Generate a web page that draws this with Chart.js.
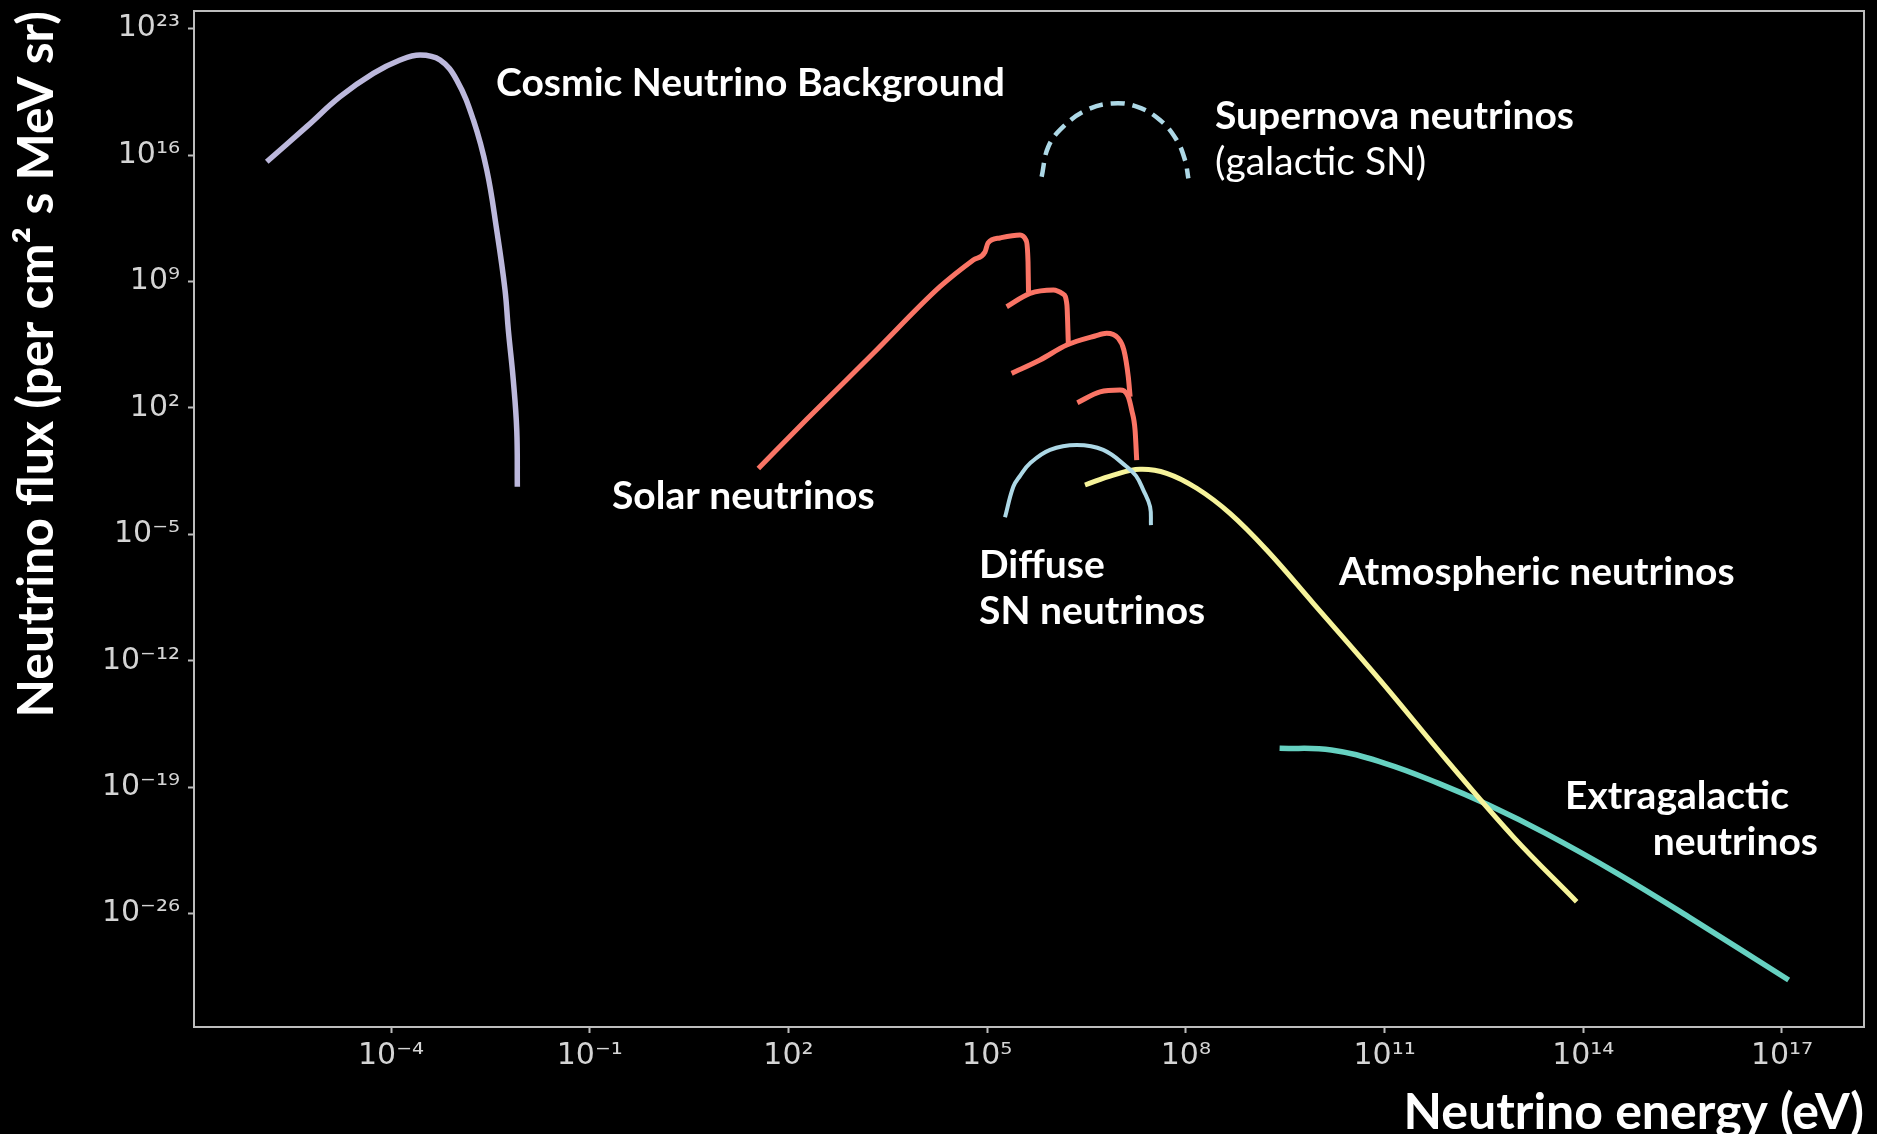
<!DOCTYPE html>
<html><head><meta charset="utf-8">
<script src="https://cdn.jsdelivr.net/npm/chart.js@4.4.1/dist/chart.umd.min.js"></script>
<style>html,body{margin:0;padding:0;background:#000;overflow:hidden}canvas{display:block}</style>
</head><body>
<canvas id="c" width="1877" height="1134"></canvas>
<script>
// ---- tick labels (powers of ten) ----
const xTickExponents = [-4, -1, 2, 5, 8, 11, 14, 17];
const yTickExponents = [23, 16, 9, 2, -5, -12, -19, -26];
// axis ranges
const xRange = [1.06e-7, 1.73e18];
const yRange = [5.25e-33, 9.44e23];

// ---- Cosmic Neutrino Background ----
const cnbEnergy = [1.33e-6, 5.33e-6, 1.70e-5, 5.41e-5, 1.37e-4, 2.74e-4, 5.50e-4, 9.82e-4, 1.75e-3, 2.79e-3, 3.94e-3, 5.26e-3, 5.90e-3, 7.01e-3, 7.91e-3, 8.07e-3];
const cnbFlux   = [4.27e15, 3.72e17, 1.70e19, 3.31e20, 1.82e21, 3.47e21, 1.82e21, 1.41e20, 8.71e17, 1.48e15, 7.08e11, 3.39e8, 2.04e6, 3.47e3, 5.89, 4.27e-3];

// ---- Solar neutrinos (pp + lines, four branches) ----
const solarAEnergy = [35.1, 189, 1910, 1.94e4, 6.18e4, 9.27e4, 1.03e5, 1.56e5, 3.13e5, 3.85e5, 4.14e5, 4.21e5];
const solarAFlux   = [4.47e-2, 23.4, 1.05e5, 5.13e8, 1.55e10, 4.27e10, 1.35e11, 2.57e11, 3.72e11, 1.95e11, 1.20e10, 2.63e8];
const solarBEnergy = [1.97e5, 4.44e5, 1.00e6, 1.40e6, 1.60e6, 1.68e6];
const solarBFlux   = [3.98e7, 2.19e8, 3.39e8, 2.00e8, 5.01e7, 3.72e5];
const solarCEnergy = [2.34e5, 6.28e5, 1.59e6, 4.25e6, 6.38e6, 9.44e6, 1.16e7, 1.35e7, 1.44e7];
const solarCFlux   = [8.13e3, 4.47e4, 3.02e5, 9.55e5, 1.35e6, 7.41e5, 1.58e5, 5.37e3, 417];
const solarDEnergy = [2.30e6, 5.06e6, 1.01e7, 1.35e7, 1.52e7, 1.71e7, 1.81e7];
const solarDFlux   = [195, 776, 977, 417, 75.9, 5.89, 0.129];

// ---- Supernova neutrinos (galactic SN) ----
const snEnergy = [6.65e5, 8.38e5, 1.41e6, 3.18e6, 7.67e6, 1.81e7, 4.06e7, 7.26e7, 9.70e7, 1.09e8];
const snFlux   = [6.31e14, 2.88e16, 3.72e17, 3.09e18, 7.24e18, 4.79e18, 8.71e17, 6.76e16, 5.25e15, 5.13e14];

// ---- Diffuse SN neutrinos ----
const dsnEnergy = [1.86e5, 2.48e5, 3.13e5, 4.44e5, 8.89e5, 2.25e6, 5.66e6, 1.28e7, 1.77e7, 2.28e7, 2.88e7, 2.97e7];
const dsnFlux   = [8.71e-5, 4.27e-3, 1.70e-2, 8.51e-2, 0.468, 0.871, 0.468, 5.50e-2, 1.70e-2, 2.82e-3, 3.39e-4, 3.24e-5];

// ---- Atmospheric neutrinos ----
const atmEnergy = [3.00e6, 8.02e6, 2.03e7, 5.13e7, 1.46e8, 4.63e8, 1.66e9, 8.39e9, 8.53e10, 8.65e11, 8.77e12, 7.94e13];
const atmFlux   = [5.37e-3, 1.91e-2, 3.98e-2, 2.40e-2, 3.55e-3, 1.45e-4, 1.35e-6, 1.51e-9, 8.51e-14, 3.16e-18, 1.78e-22, 4.57e-26];

// ---- Extragalactic neutrinos ----
const egEnergy = [2.60e9, 1.57e10, 1.01e11, 6.53e11, 3.72e12, 2.70e13, 3.24e14, 3.88e15, 1.26e17];
const egFlux   = [1.41e-17, 1.15e-17, 2.09e-18, 1.62e-19, 1.02e-20, 2.75e-22, 1.70e-24, 6.61e-27, 2.09e-30];

// ---- annotation texts, anchored in data space ----
const labelTexts  = ['Cosmic Neutrino Background', 'Supernova neutrinos', '(galactic SN)', 'Solar neutrinos', 'Diffuse', 'SN neutrinos', 'Atmospheric neutrinos', 'Extragalactic', 'neutrinos'];
const labelEnergy = [3.85e-3, 2.75e8, 2.75e8, 0.217, 7.53e4, 7.53e4, 2.05e10, 5.30e13, 3.49e17];
const labelFlux   = [1.86e19, 2.75e17, 7.76e14, 2.51e-4, 3.80e-8, 1.07e-10, 1.55e-8, 6.17e-21, 1.74e-23];
const labelBold   = [true, true, false, true, true, true, true, true, true];
const labelAlign  = ['left', 'left', 'left', 'left', 'left', 'left', 'left', 'left', 'right'];

const SUP = {'-':'\u207B','0':'\u2070','1':'\u00B9','2':'\u00B2','3':'\u00B3','4':'\u2074','5':'\u2075','6':'\u2076','7':'\u2077','8':'\u2078','9':'\u2079'};
const powLabel = v => '10' + String(Math.round(Math.log10(v))).split('').map(c => SUP[c]).join('');
const pts = (xs, ys) => xs.map((x, i) => ({x, y: ys[i]}));

const series = [
  {label: 'Diffuse SN neutrinos', e: dsnEnergy, f: dsnFlux, color: '#add8e6', width: 4, smooth: 'bezier'},
  {label: 'Atmospheric neutrinos', e: atmEnergy, f: atmFlux, color: '#f6f39a', width: 5, smooth: 'bezier'},
  {label: 'Extragalactic neutrinos', e: egEnergy, f: egFlux, color: '#66d1c1', width: 5.5, smooth: 'bezier'},
  {label: 'Supernova neutrinos', e: snEnergy, f: snFlux, color: '#add8e6', width: 4.5, dash: [14, 8], smooth: 'bezier'},
  {label: 'Solar neutrinos A', e: solarAEnergy, f: solarAFlux, color: '#fa7465', width: 5, smooth: 'monotone'},
  {label: 'Solar neutrinos B', e: solarBEnergy, f: solarBFlux, color: '#fa7465', width: 5, smooth: 'monotone'},
  {label: 'Solar neutrinos C', e: solarCEnergy, f: solarCFlux, color: '#fa7465', width: 5, smooth: 'monotone'},
  {label: 'Solar neutrinos D', e: solarDEnergy, f: solarDFlux, color: '#fa7465', width: 5, smooth: 'monotone'},
  {label: 'Cosmic Neutrino Background', e: cnbEnergy, f: cnbFlux, color: '#bcb8dc', width: 5.5, smooth: 'bezier'},
];

const AXIS = '#bdbdbd';
const TICKTXT = '#d4d4d4';

const framePlugin = {
  id: 'frame',
  beforeDatasetsDraw(chart) {
    const {ctx, chartArea: a} = chart;
    ctx.save();
    ctx.strokeStyle = AXIS; ctx.lineWidth = 2;
    ctx.beginPath();
    ctx.moveTo(a.left, a.top); ctx.lineTo(a.right, a.top); ctx.lineTo(a.right, a.bottom);
    ctx.stroke();
    ctx.restore();
  }
};

const labelPlugin = {
  id: 'labels',
  afterDatasetsDraw(chart) {
    const {ctx, scales} = chart;
    ctx.save();
    ctx.fillStyle = '#ffffff';
    ctx.textBaseline = 'alphabetic';
    labelTexts.forEach((t, i) => {
      ctx.font = (labelBold[i] ? 'bold ' : '') + '39px Lato';
      ctx.textAlign = labelAlign[i];
      ctx.fillText(t, scales.x.getPixelForValue(labelEnergy[i]), scales.y.getPixelForValue(labelFlux[i]));
    });
    ctx.restore();
  }
};

new Chart(document.getElementById('c'), {
  type: 'line',
  data: {
    datasets: series.map(s => ({
      label: s.label,
      data: pts(s.e, s.f),
      borderColor: s.color,
      borderWidth: s.width,
      borderDash: s.dash || [],
      borderCapStyle: 'butt',
      borderJoinStyle: 'round',
      cubicInterpolationMode: s.smooth === 'monotone' ? 'monotone' : 'default',
      tension: s.smooth === 'monotone' ? 0 : 0.4,
      pointRadius: 0,
      fill: false
    }))
  },
  options: {
    responsive: false,
    animation: false,
    layout: {padding: {top: 11, right: 13, left: 0, bottom: 0}},
    plugins: {legend: {display: false}, tooltip: {enabled: false}},
    scales: {
      x: {
        type: 'logarithmic', min: xRange[0], max: xRange[1], bounds: 'data',
        grid: {display: true, drawOnChartArea: false, drawTicks: true, tickLength: 6, tickColor: AXIS, tickWidth: 2},
        border: {display: true, color: AXIS, width: 2},
        ticks: {color: TICKTXT, font: {family: 'DejaVu Sans', size: 30}, padding: 5, maxRotation: 0, minRotation: 0, autoSkip: false, callback: v => powLabel(v)},
        title: {display: true, text: 'Neutrino energy (eV)', align: 'end', color: '#ffffff', font: {family: 'Lato', weight: 'bold', size: 50, lineHeight: 1}, padding: {top: 0, bottom: -4}},
        afterBuildTicks: s => { s.ticks = xTickExponents.map(e => ({value: Math.pow(10, e)})); },
        afterFit: s => { s.height = 107; s.paddingLeft = 0; s.paddingRight = 0; }
      },
      y: {
        type: 'logarithmic', min: yRange[0], max: yRange[1], bounds: 'data',
        grid: {display: true, drawOnChartArea: false, drawTicks: true, tickLength: 6, tickColor: AXIS, tickWidth: 2},
        border: {display: true, color: AXIS, width: 2},
        ticks: {color: TICKTXT, font: {family: 'DejaVu Sans', size: 30}, padding: 8, autoSkip: false, callback: v => powLabel(v)},
        title: {display: true, text: 'Neutrino flux (per cm\u00B2 s MeV sr)', align: 'end', color: '#ffffff', font: {family: 'Lato', weight: 'bold', size: 50, lineHeight: 1}, padding: {top: 12, bottom: 0}},
        afterBuildTicks: s => { s.ticks = yTickExponents.map(e => ({value: Math.pow(10, e)})); },
        afterFit: s => { s.width = 194; s.paddingTop = 0; s.paddingBottom = 0; }
      }
    }
  },
  plugins: [framePlugin, labelPlugin]
});
</script>
</body></html>
